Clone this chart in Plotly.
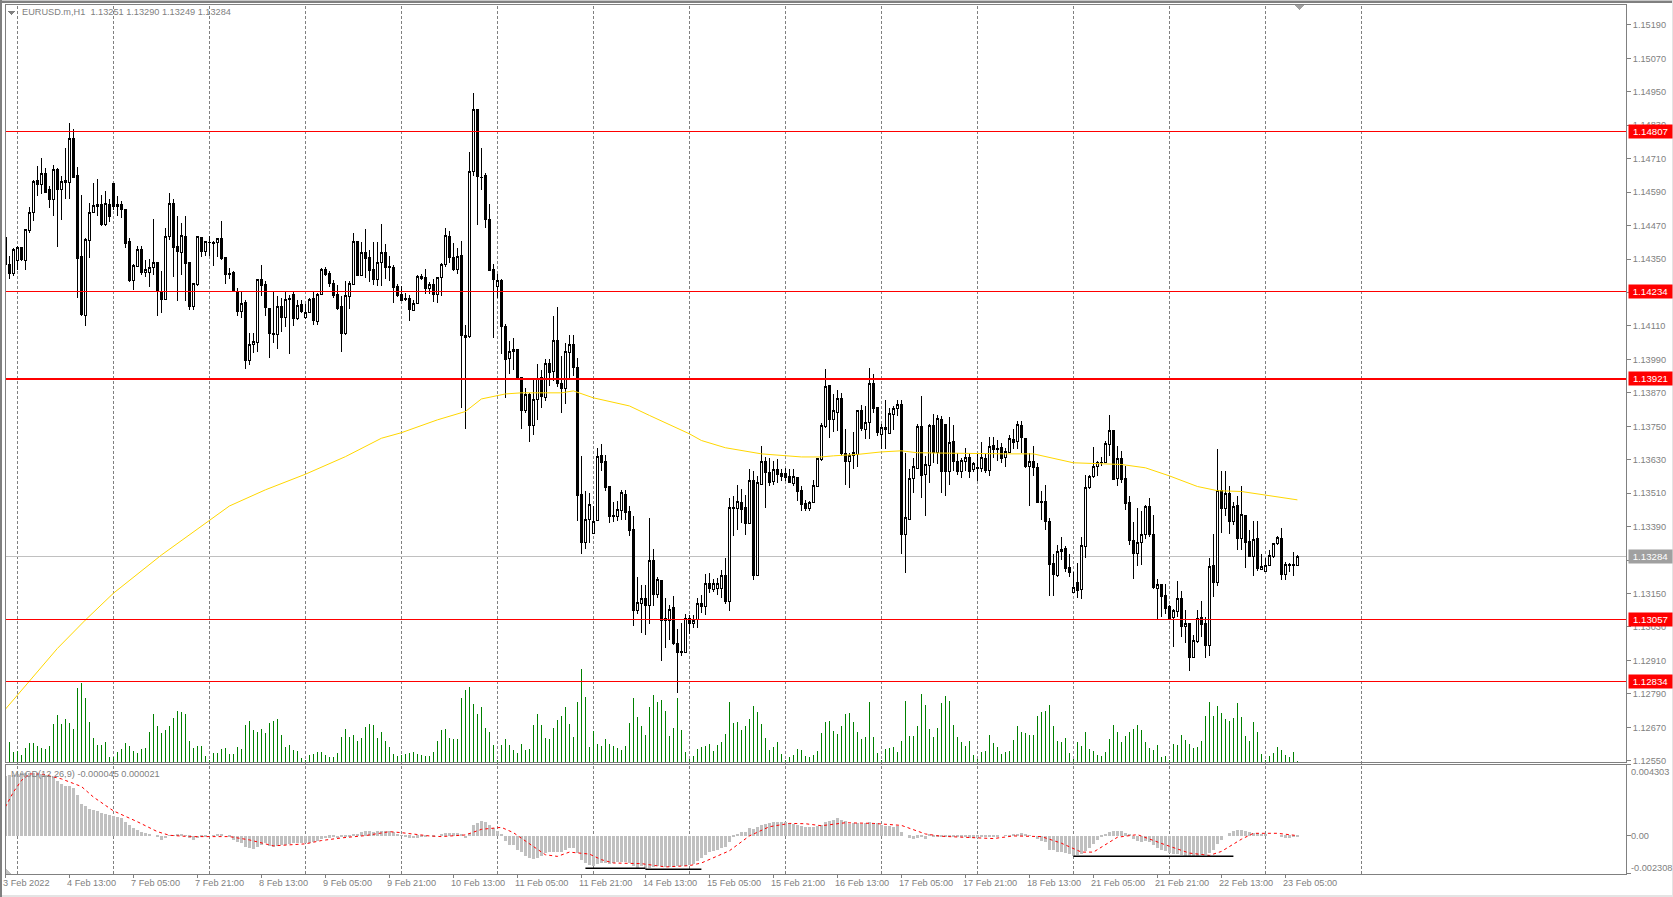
import plotly.graph_objects as go

# prices are stored in points (1 point = 0.00001)
open_pts = [
    114426,114332,114298,114346,114390,114346,114454,114516,114630,114619,
    114658,114600,114562,114671,114598,114626,114626,114784,114650,114359,
    114149,114418,114516,114545,114546,114473,114544,114622,114545,114545,
    114528,114413,114274,114324,114384,114302,114302,114318,114338,114230,
    114204,114430,114550,114394,114374,114430,114337,114180,114258,114427,
    114378,114408,114409,114410,114424,114354,114298,114300,114234,114162,
    114193,113986,114044,114050,114276,114258,114172,114084,114079,114180,
    114142,114210,114222,114137,114186,114139,114158,114208,114125,114223,
    114314,114298,114264,114222,114179,114082,114216,114260,114412,114290,
    114372,114354,114312,114276,114336,114372,114324,114318,114252,114222,
    114208,114208,114166,114192,114286,114283,114245,114259,114223,114285,
    114329,114431,114356,114313,114363,114074,114071,114665,114888,114643,
    114648,114492,114312,114253,114273,114108,113994,114019,114027,113925,
    113807,113863,113753,113847,113925,113855,113977,113947,114056,113905,
    113887,114015,114045,113961,113504,113333,113414,113366,113413,113645,
    113623,113534,113429,113427,113447,113507,113443,113378,113089,113113,
    113133,113107,113270,113145,113198,113060,113055,113101,112971,112942,
    112937,113061,113041,113057,113115,113103,113185,113165,113168,113168,
    113216,113121,113456,113456,113475,113457,113403,113555,113215,113542,
    113623,113584,113551,113594,113581,113581,113569,113545,113566,113519,
    113473,113455,113475,113535,113631,113749,113897,113773,113801,113849,
    113651,113625,113645,113648,113807,113739,113765,113903,113817,113721,
    113745,113725,113793,113813,113829,113361,113415,113561,113599,113750,
    113577,113611,113753,113655,113775,113757,113589,113695,113625,113589,
    113623,113638,113595,113601,113597,113635,113593,113681,113671,113674,
    113637,113655,113703,113695,113753,113705,113607,113625,113601,113480,
    113479,113410,113257,113215,113299,113311,113245,113153,113191,113165,
    113319,113529,113569,113605,113619,113619,113685,113735,113561,113633,
    113563,113475,113342,113295,113333,113360,113461,113360,113169,113183,
    113144,113102,113063,113085,113133,113031,113043,112921,112977,113065,
    113041,112963,113251,113189,113521,113456,113509,113408,113467,113348,
    113431,113336,113283,113347,113237,113229,113251,113283,113330,113347,
    113218,113251,113253,113251,
]
high_pts = [
    114496,114362,114390,114398,114390,114456,114538,114632,114684,114714,
    114678,114612,114686,114678,114648,114750,114838,114818,114680,114578,
    114425,114550,114624,114638,114578,114594,114564,114622,114576,114558,
    114530,114424,114334,114398,114398,114348,114350,114492,114338,114306,
    114462,114586,114564,114504,114478,114506,114337,114264,114434,114427,
    114413,114432,114414,114427,114485,114354,114318,114306,114246,114234,
    114204,114084,114084,114278,114329,114270,114172,114234,114216,114210,
    114234,114222,114230,114204,114204,114190,114210,114234,114228,114318,
    114322,114306,114274,114258,114216,114270,114270,114444,114412,114410,
    114456,114384,114412,114410,114474,114404,114360,114330,114262,114254,
    114228,114222,114204,114294,114298,114313,114267,114277,114287,114335,
    114461,114451,114407,114391,114413,114115,114733,114947,114888,114749,
    114657,114547,114331,114297,114277,114117,114055,114067,114027,113925,
    113887,113869,113917,113975,113953,113991,113991,114147,114179,114001,
    114049,114077,114077,113995,113645,113518,113510,113463,113671,113687,
    113648,113534,113480,113483,113523,113521,113463,113429,113211,113181,
    113181,113422,113311,113209,113198,113133,113109,113141,113021,113043,
    113077,113073,113073,113133,113145,113221,113223,113201,113205,113235,
    113277,113491,113499,113539,113525,113503,113597,113591,113573,113681,
    113641,113638,113627,113631,113597,113601,113597,113597,113566,113535,
    113485,113481,113557,113635,113761,113955,113897,113865,113881,113871,
    113741,113655,113731,113806,113825,113823,113959,113937,113817,113758,
    113845,113817,113823,113845,113845,113655,113595,113637,113757,113859,
    113645,113757,113793,113791,113787,113757,113785,113753,113655,113637,
    113671,113655,113621,113655,113693,113649,113713,113713,113701,113689,
    113672,113719,113739,113769,113769,113705,113655,113681,113619,113517,
    113541,113421,113293,113325,113353,113319,113293,113227,113259,113353,
    113577,113577,113677,113625,113641,113697,113789,113735,113679,113663,
    113609,113501,113405,113457,113446,113469,113491,113431,113203,113183,
    113183,113109,113093,113195,113159,113091,113043,113001,113091,113123,
    113067,113279,113365,113667,113588,113590,113534,113479,113501,113537,
    113433,113377,113411,113411,113291,113277,113307,113333,113355,113386,
    113263,113259,113300,113290,
]
low_pts = [
    114294,114278,114288,114312,114342,114312,114442,114486,114576,114582,
    114586,114534,114506,114392,114490,114564,114564,114642,114210,114146,
    114110,114352,114514,114504,114468,114470,114482,114526,114504,114498,
    114390,114266,114240,114320,114294,114284,114250,114294,114144,114158,
    114202,114418,114286,114198,114293,114198,114168,114166,114254,114356,
    114360,114360,114326,114358,114348,114262,114278,114234,114146,114138,
    113957,113970,114012,114018,114216,114144,113996,114048,114026,114090,
    114106,114010,114108,114130,114156,114134,114156,114114,114114,114222,
    114288,114250,114210,114168,114018,114078,114170,114258,114288,114288,
    114282,114266,114258,114252,114252,114278,114270,114194,114214,114198,
    114198,114126,114162,114190,114276,114223,114223,114195,114191,114219,
    114321,114337,114307,114295,113815,113741,114067,114649,114473,114599,
    114463,114306,114065,114211,114011,113853,113939,113953,113925,113741,
    113797,113695,113719,113773,113817,113839,113895,113913,113891,113797,
    113831,113925,113929,113409,113293,113309,113331,113365,113413,113588,
    113517,113403,113408,113409,113415,113415,113355,113033,113075,113009,
    113001,113041,113105,113133,112909,112955,112983,112965,112793,112925,
    112935,113005,113025,113025,113079,113073,113151,113157,113145,113133,
    113113,113089,113355,113379,113403,113359,113402,113199,113213,113542,
    113456,113537,113541,113547,113553,113553,113547,113535,113483,113445,
    113445,113447,113473,113533,113627,113745,113707,113729,113733,113645,
    113541,113528,113595,113603,113733,113705,113703,113799,113715,113667,
    113667,113721,113735,113787,113293,113225,113413,113509,113595,113492,
    113427,113547,113619,113613,113511,113501,113541,113589,113577,113563,
    113589,113563,113587,113553,113585,113581,113573,113637,113625,113619,
    113605,113655,113667,113667,113655,113601,113463,113571,113477,113415,
    113379,113141,113141,113211,113271,113229,113211,113151,113133,113129,
    113276,113525,113565,113571,113607,113617,113643,113557,113535,113545,
    113451,113325,113203,113247,113253,113347,113353,113165,113057,113067,
    113077,113057,112959,113067,112993,112973,112873,112918,112971,112993,
    112919,112927,113139,113177,113366,113427,113365,113397,113305,113307,
    113243,113281,113213,113231,113235,113229,113249,113278,113325,113199,
    113197,113228,113213,113249,
]
close_pts = [
    114330,114298,114384,114390,114350,114456,114516,114629,114619,114658,
    114590,114562,114671,114598,114628,114631,114782,114644,114353,114150,
    114420,114516,114542,114540,114474,114548,114504,114540,114540,114526,
    114406,114272,114326,114384,114300,114312,114318,114336,114232,114204,
    114430,114550,114392,114378,114433,114335,114180,114262,114431,114376,
    114413,114410,114407,114422,114353,114295,114293,114234,114162,114192,
    113986,114044,114055,114276,114254,114176,114082,114079,114178,114142,
    114206,114206,114138,114182,114163,114160,114204,114128,114224,114314,
    114295,114262,114218,114172,114082,114218,114262,114412,114290,114372,
    114353,114310,114276,114336,114372,114320,114319,114248,114218,114202,
    114204,114168,114192,114286,114281,114245,114259,114223,114283,114330,
    114434,114356,114313,114359,114077,114069,114665,114888,114645,114641,
    114491,114309,114275,114273,114109,113991,114020,114027,113925,113807,
    113863,113753,113847,113923,113857,113977,113943,114056,113903,113886,
    114017,114045,113960,113503,113333,113414,113471,113410,113641,113621,
    113531,113427,113427,113450,113511,113441,113375,113089,113119,113133,
    113107,113270,113145,113199,113055,113055,113093,112969,112940,112937,
    113061,113041,113055,113115,113103,113187,113167,113187,113187,113216,
    113121,113457,113458,113479,113451,113403,113557,113213,113547,113623,
    113585,113549,113594,113577,113570,113565,113547,113569,113517,113469,
    113455,113475,113537,113635,113752,113894,113773,113806,113849,113651,
    113625,113645,113655,113806,113741,113763,113903,113815,113729,113745,
    113739,113795,113815,113829,113360,113421,113561,113605,113750,113575,
    113612,113752,113655,113777,113589,113589,113691,113623,113589,113627,
    113637,113589,113617,113599,113637,113593,113679,113667,113667,113635,
    113659,113705,113693,113755,113708,113607,113625,113601,113477,113477,
    113407,113253,113217,113299,113309,113239,113225,113173,113161,113323,
    113529,113571,113605,113619,113621,113687,113735,113559,113635,113559,
    113474,113341,113295,113333,113360,113461,113360,113171,113183,113139,
    113096,113062,113089,113133,113031,113043,112921,112981,113061,113038,
    112963,113247,113189,113521,113456,113509,113408,113463,113349,113433,
    113333,113284,113345,113239,113247,113251,113287,113331,113350,113218,
    113254,113255,113250,113284,
]
volume = [
    26,21,11,12,8,15,20,20,17,15,14,17,39,48,39,44,40,34,75,80,
    65,41,25,18,18,21,6,6,11,14,20,17,12,10,14,15,31,49,37,30,
    33,37,45,52,51,49,22,15,17,17,7,3,10,10,14,15,9,9,16,14,
    38,42,33,31,34,30,40,42,44,28,16,18,13,12,5,3,8,9,11,11,
    8,6,6,10,26,34,26,28,22,25,36,39,38,25,31,22,16,9,7,8,
    9,10,11,9,8,7,7,11,22,33,34,25,24,24,65,73,76,59,49,56,
    35,31,18,3,18,24,18,13,10,19,13,14,38,49,38,25,24,35,43,47,
    56,39,26,61,94,66,16,32,19,17,24,19,17,15,13,17,40,65,46,37,
    28,56,68,61,63,52,27,35,65,33,11,4,7,14,16,17,19,12,18,21,
    29,61,40,41,33,37,44,57,51,39,25,13,16,21,9,3,6,8,14,13,
    7,6,8,12,30,41,42,32,29,37,49,50,41,31,24,26,61,26,10,3,
    14,15,16,11,22,62,27,27,37,69,58,34,26,35,60,67,62,38,26,21,
    17,22,8,4,11,12,28,20,16,9,11,12,23,37,31,30,28,28,47,51,
    52,58,37,22,21,25,10,4,21,17,31,14,12,8,7,11,24,38,31,21,
    27,31,34,38,33,21,15,13,18,6,7,3,19,18,28,23,19,15,16,22,
    47,61,47,57,50,44,42,45,60,46,27,22,41,31,9,3,7,10,16,13,
    8,6,11,2,
]
# MACD histogram and signal in millionths
macd_hist = [
    3660,3700,3720,3760,3800,3800,3820,3800,3760,3760,
    3720,3660,3560,3360,3160,3060,3000,2900,2460,1960,
    1800,1660,1600,1500,1380,1320,1280,1200,1140,1060,
    860,660,460,360,220,160,100,0,-40,-240,
    -140,40,40,60,100,40,-120,-240,-140,-80,
    -40,0,40,60,60,0,-40,-240,-340,-400,
    -640,-740,-800,-640,-540,-440,-580,-640,-600,-540,
    -540,-500,-440,-400,-420,-400,-400,-340,-280,-200,
    -140,-100,-80,-140,-80,-80,-40,100,120,260,
    280,280,240,320,320,320,300,260,140,40,
    -40,-100,-140,-100,-80,-40,0,-80,0,80,
    160,200,200,200,60,-140,160,660,800,900,
    840,640,500,320,60,-300,-540,-540,-840,-1000,
    -1240,-1340,-1380,-1340,-1200,-1040,-1000,-1000,-1000,-1000,
    -880,-740,-740,-1040,-1440,-1620,-1740,-1840,-1720,-1620,
    -1620,-1680,-1640,-1600,-1560,-1580,-1640,-1840,-1940,-1840,
    -1980,-1940,-1880,-1840,-1840,-1880,-1900,-1880,-1840,-1840,
    -1800,-1760,-1700,-1540,-1340,-1180,-1000,-900,-840,-740,
    -640,-380,-80,120,220,260,460,400,520,660,
    720,800,840,840,840,820,760,700,640,620,
    520,520,560,600,660,820,900,960,1080,960,
    880,740,800,800,740,800,820,760,760,660,
    620,600,560,600,240,0,-100,-160,-100,-40,
    -160,60,-40,-40,-40,-40,-20,-40,-40,-40,
    -60,-100,-100,-100,-80,-80,-80,-60,-20,0,
    40,40,80,100,160,60,40,0,-160,-300,
    -380,-840,-880,-960,-960,-1040,-1120,-1200,-1160,-1080,
    -920,-740,-480,-240,-40,100,260,300,300,300,
    200,60,-200,-300,-340,-300,-340,-540,-740,-840,
    -940,-1040,-1080,-1080,-1140,-1240,-1300,-1300,-1200,-1180,
    -1140,-1040,-840,-500,-240,0,200,280,360,380,
    320,240,200,200,120,80,0,0,0,-60,
    -120,-100,-80,-45,
]
signal_bars = [0,2,4,6,9,14,19,22,27,33,38,41,46,56,61,67,75,79,84,90,96,99,106,109,115,119,124,127,132,135,138,
               141,146,149,152,159,165,171,174,181,186,191,196,200,204,210,217,224,230,234,247,252,259,264,269,272,278,
               283,290,296,301,304,309,312,318,323]
signal_vals = [1760,2660,3360,3760,3760,3460,3000,2360,1520,860,260,40,-40,-40,-240,-600,-480,-280,-120,20,260,200,0,-40,60,400,520,200,-640,-1140,-1240,
               -980,-1100,-1440,-1640,-1680,-1880,-1800,-1640,-900,0,560,760,740,620,800,760,640,120,-20,-160,0,-40,-440,-980,-980,-80,
               80,-540,-1040,-1180,-940,-200,160,160,21]
ma_bars = [0,6,13,20,27,39,51,56,65,75,85,94,99,108,115,119,125,129,139,142,147,156,161,171,174,180,189,199,204,207,213,219,224,228,250,257,267,279,285,291,298,303,309,315,323]
ma_vals = [1.12735,1.12834,1.12953,1.13055,1.13151,1.13288,1.13414,1.13464,1.13522,1.13578,1.13641,1.13707,1.13727,1.13773,1.13803,1.13848,1.13866,1.13870,1.13870,1.13877,1.13852,
           1.13823,1.13789,1.13723,1.13699,1.13673,1.13651,1.13640,1.13640,1.13644,1.13649,1.13658,1.13662,1.13655,1.13651,1.13651,1.13619,1.13613,1.13601,
           1.13572,1.13534,1.13519,1.13516,1.13504,1.13486]

levels = [1.14807, 1.14234, 1.13921, 1.13057, 1.12834]
level_widths = [1, 1, 2, 1, 1]
last_price = 1.13284
price_ticks = [1.15190,1.15070,1.14950,1.14830,1.14710,1.14590,1.14470,1.14350,1.14230,1.14110,1.13990,
               1.13870,1.13750,1.13630,1.13510,1.13390,1.13270,1.13150,1.13030,1.12910,1.12790,1.12670,1.12550]
macd_ticks = [0.004303, 0.0, -0.002308]
macd_tick_text = ["0.004303", "0.00", "-0.002308"]
time_labels = ["3 Feb 2022","4 Feb 13:00","7 Feb 05:00","7 Feb 21:00","8 Feb 13:00","9 Feb 05:00","9 Feb 21:00",
               "10 Feb 13:00","11 Feb 05:00","11 Feb 21:00","14 Feb 13:00","15 Feb 05:00","15 Feb 21:00","16 Feb 13:00",
               "17 Feb 05:00","17 Feb 21:00","18 Feb 13:00","21 Feb 05:00","21 Feb 21:00","22 Feb 13:00","23 Feb 05:00"]
trend_lines = [([145, 160], [-0.00196, -0.00196]), ([160, 174], [-0.00202, -0.00202]), ([267, 307], [-0.00123, -0.00123])]

FONT = "Liberation Sans"
FONT_SIZE = 9.2
GRAY = "#808080"

bars = list(range(len(open_pts)))
fig = go.Figure()

fig.add_trace(go.Candlestick(
    x=bars,
    open=[v / 100000 for v in open_pts],
    high=[v / 100000 for v in high_pts],
    low=[v / 100000 for v in low_pts],
    close=[v / 100000 for v in close_pts],
    increasing=dict(line=dict(color="black", width=1), fillcolor="white"),
    decreasing=dict(line=dict(color="black", width=1), fillcolor="black"),
    whiskerwidth=0,
    xaxis="x", yaxis="y",
))
fig.add_trace(go.Scatter(x=ma_bars, y=ma_vals, mode="lines", line=dict(color="#ffd700", width=1), xaxis="x", yaxis="y"))
# plotly widens bars under 2px to whole pixels, so a narrow width lands on exactly one pixel
fig.add_trace(go.Bar(x=bars, y=volume, width=0.1, marker=dict(color="#008000", line=dict(width=0)), xaxis="x", yaxis="y3"))
fig.add_trace(go.Bar(x=bars, y=[v / 1e6 for v in macd_hist], width=0.75, marker=dict(color="#c0c0c0", line=dict(width=0)), xaxis="x", yaxis="y2"))
fig.add_trace(go.Scatter(x=signal_bars, y=[v / 1e6 for v in signal_vals], mode="lines",
                         line=dict(color="red", width=1, dash="dot"), xaxis="x", yaxis="y2"))
for tx, ty in trend_lines:
    fig.add_trace(go.Scatter(x=tx, y=ty, mode="lines", line=dict(color="black", width=1.5), xaxis="x", yaxis="y2"))

# vertical period separators run through both panes
for b in range(3, 340, 24):
    fig.add_shape(type="line", x0=b, x1=b, y0=0, y1=1, xref="x", yref="paper", layer="below",
                  line=dict(color=GRAY, width=1, dash="3px,2px"))
for lvl, w in zip(levels, level_widths):
    fig.add_shape(type="line", x0=0, x1=1, y0=lvl, y1=lvl, xref="paper", yref="y", line=dict(color="red", width=w))
fig.add_shape(type="line", x0=0, x1=1, y0=last_price, y1=last_price, xref="paper", yref="y", layer="below",
              line=dict(color="#c0c0c0", width=1))

# pane frames
PRICE_BOTTOM = 0.1276
MACD_TOP = 0.1253
for y0, y1 in [(PRICE_BOTTOM, 1), (0, MACD_TOP)]:
    fig.add_shape(type="rect", x0=0, x1=1, y0=y0, y1=y1, xref="paper", yref="paper", line=dict(color=GRAY, width=1))

# window edges, drawn in paper units past the plot area
PX_W = 1621
PX_H = 870
def edge(x0, y0, x1, y1, color):
    fig.add_shape(type="rect", xref="paper", yref="paper", x0=(x0 - 5) / PX_W, x1=(x1 - 5) / PX_W,
                  y0=(874 - y1) / PX_H, y1=(874 - y0) / PX_H, fillcolor=color, line=dict(width=0))
edge(0, 0, 1673, 1, "#c8c8c8")
edge(0, 1, 1673, 3, GRAY)
edge(0, 0, 2, 897, GRAY)
edge(1671.5, 0, 1673, 897, "#e4e4e4")
edge(2, 894.5, 1673, 897, "#e4e4e4")

def triangle(pts, color):
    path = "M " + " L ".join(f"{(x - 5) / PX_W} {(874 - y) / PX_H}" for x, y in pts) + " Z"
    fig.add_shape(type="path", path=path, xref="paper", yref="paper", fillcolor=color, line=dict(width=0))
triangle([(8, 11), (15, 11), (11.5, 15)], GRAY)
triangle([(1295, 5), (1304, 5), (1299.5, 10)], "#a0a0a0")
triangle([(5.5, 868), (5.5, 874), (11, 874)], "#c0c0c0")

anns = []
for lvl in levels:
    anns.append(dict(x=1, xref="paper", y=lvl, yref="y", text=f"{lvl:.5f}", showarrow=False, xanchor="left", xshift=2,
                     width=41, height=11, bgcolor="red", font=dict(color="white", size=FONT_SIZE + 0.5, family=FONT)))
anns.append(dict(x=1, xref="paper", y=last_price, yref="y", text=f"{last_price:.5f}", showarrow=False, xanchor="left", xshift=2,
                 width=41, height=11, bgcolor="#a0a0a0", font=dict(color="white", size=FONT_SIZE + 0.5, family=FONT)))
for val, txt, shift in zip(macd_ticks, macd_tick_text, [-7, 0, 6]):
    anns.append(dict(x=1, xref="paper", y=val, yref="y2", text=txt, showarrow=False, xanchor="left", xshift=3, yshift=shift,
                     font=dict(color=GRAY, size=FONT_SIZE, family=FONT)))
for i, txt in enumerate(time_labels):
    anns.append(dict(x=i * 16, xref="x", y=0, yref="paper", text=txt, showarrow=False, xanchor="left", yanchor="top",
                     xshift=-4, yshift=-2, font=dict(color=GRAY, size=FONT_SIZE, family=FONT)))
anns.append(dict(x=0.0095, xref="paper", y=0.9904, yref="paper", xanchor="left", yanchor="middle", showarrow=False,
                 text="EURUSD.m,H1&nbsp;&nbsp;1.13251 1.13290 1.13249 1.13284", font=dict(color=GRAY, size=FONT_SIZE, family=FONT)))
anns.append(dict(x=0.0025, xref="paper", y=0.1146, yref="paper", xanchor="left", yanchor="middle", showarrow=False,
                 text="MACD(12,26,9) -0.000045 0.000021", font=dict(color=GRAY, size=FONT_SIZE, family=FONT)))

fig.update_layout(
    width=1673, height=897,
    margin=dict(l=5, r=47, t=4, b=23, pad=0),
    paper_bgcolor="white", plot_bgcolor="white",
    showlegend=False, barmode="overlay", bargap=0,
    annotations=anns,
    xaxis=dict(domain=[0, 1], range=[-0.1, 405.15], anchor="y2", rangeslider=dict(visible=False), showgrid=False, zeroline=False,
               tickvals=[i * 16 for i in range(len(time_labels))], ticks="outside", ticklen=3, tickcolor=GRAY, showticklabels=False),
    yaxis=dict(domain=[PRICE_BOTTOM, 1], range=[1.12542, 1.15265], side="right", anchor="x", showgrid=False, zeroline=False,
               tickvals=price_ticks, ticktext=[f"{v:.5f}" for v in price_ticks], ticks="outside", ticklen=4, tickcolor=GRAY,
               tickfont=dict(color=GRAY, size=FONT_SIZE, family=FONT)),
    yaxis2=dict(domain=[0, MACD_TOP], range=[-0.002308, 0.004303], side="right", anchor="x", showgrid=False, zeroline=False,
                tickvals=macd_ticks, ticks="outside", ticklen=4, tickcolor=GRAY, showticklabels=False),
    yaxis3=dict(overlaying="y", range=[0, 759], visible=False),
)

crisp = """
document.body.style.margin='0';document.body.style.overflow='hidden';
document.querySelectorAll('.boxlayer path, .shapelayer path').forEach(function(p){p.style.shapeRendering='crispEdges';});
"""
fig.write_html("out.html", config={"displayModeBar": False}, post_script=crisp)
